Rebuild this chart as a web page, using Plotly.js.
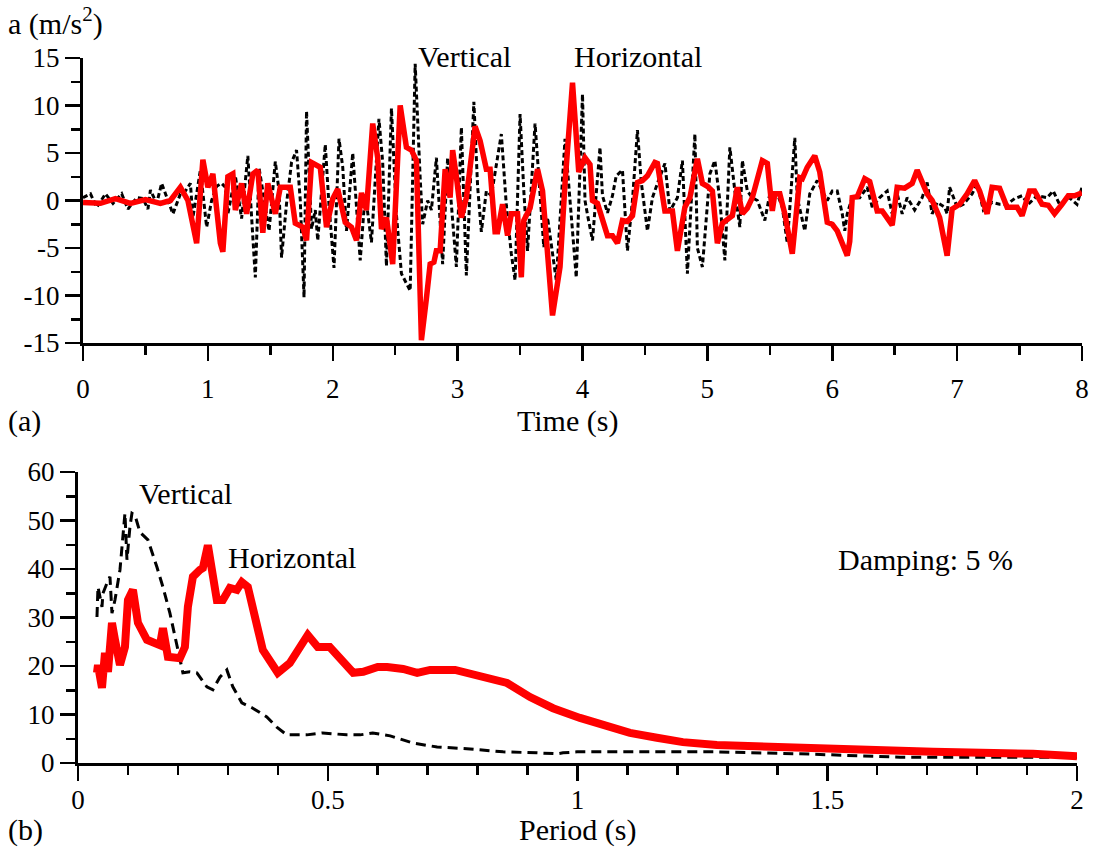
<!DOCTYPE html>
<html><head><meta charset="utf-8">
<script src="https://cdn.plot.ly/plotly-3.0.1.min.js"></script>
<style>html,body{margin:0;padding:0;background:#fff}#c{width:1094px;height:857px}</style>
</head><body><div id="c"></div>
<script>
// (a) acceleration time histories
const timeH = [0.00,0.14,0.26,0.38,0.50,0.62,0.70,0.78,0.84,0.91,0.96,1.00,1.04,1.10,1.12,1.16,1.20,1.22,1.27,1.31,1.36,1.40,1.44,1.48,1.54,1.58,1.66,1.70,1.76,1.79,1.83,1.90,1.95,2.00,2.04,2.10,2.15,2.19,2.23,2.27,2.32,2.36,2.39,2.43,2.48,2.54,2.59,2.63,2.67,2.71,2.75,2.78,2.81,2.83,2.86,2.90,2.94,2.96,2.99,3.03,3.07,3.14,3.18,3.23,3.26,3.30,3.32,3.36,3.40,3.43,3.48,3.51,3.53,3.58,3.64,3.68,3.76,3.82,3.86,3.92,3.97,4.02,4.06,4.08,4.12,4.16,4.20,4.24,4.28,4.32,4.36,4.40,4.44,4.48,4.52,4.58,4.60,4.66,4.72,4.76,4.82,4.86,4.92,4.96,5.00,5.04,5.08,5.12,5.20,5.24,5.28,5.32,5.36,5.44,5.48,5.52,5.54,5.58,5.62,5.68,5.74,5.76,5.80,5.86,5.90,5.96,6.00,6.04,6.12,6.14,6.16,6.20,6.26,6.30,6.36,6.40,6.48,6.52,6.58,6.64,6.68,6.76,6.80,6.86,6.92,6.96,7.02,7.08,7.14,7.18,7.24,7.28,7.34,7.40,7.48,7.52,7.58,7.62,7.68,7.73,7.78,7.84,7.89,7.94,8.00];
const accH = [-0.2,-0.3,0.2,-0.3,0.1,-0.3,0.0,1.4,0.0,-4.5,4.3,1.4,2.8,-4.5,-5.4,2.5,2.8,-1.0,1.8,-1.4,2.8,3.2,-3.4,1.8,-1.4,1.4,1.4,-2.4,-2.8,-4.2,4.0,3.5,-2.8,0.2,1.2,-2.3,-2.8,-4.2,0.8,-1.0,8.1,4.5,-3.0,-1.8,-6.7,10.0,5.6,5.3,4.2,-14.7,-10.3,-6.7,-6.5,-5.3,-5.3,3.3,0.3,5.3,2.5,-1.8,0.3,7.8,6.3,3.3,3.3,-3.3,-3.3,-0.4,-3.7,-1.4,-1.4,-8.1,-2.1,-0.8,3.3,1.0,-12.1,-7.0,1.8,12.4,3.0,4.5,3.8,0.0,-0.3,-1.8,-3.7,-3.7,-4.5,-2.1,-2.2,-1.6,1.9,2.1,2.6,4.0,3.9,-1.1,-1.1,-5.3,-0.7,0.3,4.4,1.8,1.5,1.0,-4.5,-2.4,-1.6,1.4,-1.4,-0.8,0.3,4.2,3.9,-1.1,0.7,0.7,-1.4,-5.6,2.4,2.3,3.5,4.7,3.0,-2.3,-2.5,-3.2,-5.8,-4.3,0.3,0.4,2.3,2.0,-1.1,-1.1,-2.6,1.4,1.3,1.8,3.2,0.7,0.0,-1.8,-5.8,-0.9,-0.4,0.7,2.1,1.0,-1.4,1.4,1.3,-0.7,-0.7,-1.6,1.0,1.0,-0.4,-0.5,-1.4,-0.4,0.5,0.5,0.8];
const timeV = [0.00,0.06,0.11,0.18,0.24,0.31,0.36,0.43,0.48,0.52,0.54,0.59,0.63,0.67,0.72,0.78,0.82,0.86,0.88,0.94,0.99,1.03,1.07,1.11,1.14,1.16,1.22,1.27,1.32,1.38,1.41,1.44,1.49,1.54,1.57,1.59,1.63,1.67,1.71,1.74,1.77,1.79,1.83,1.86,1.88,1.94,1.97,2.01,2.05,2.08,2.11,2.16,2.22,2.26,2.31,2.37,2.40,2.43,2.47,2.51,2.55,2.62,2.66,2.70,2.72,2.76,2.79,2.83,2.88,2.92,2.99,3.03,3.07,3.13,3.16,3.19,3.23,3.27,3.35,3.39,3.43,3.46,3.50,3.53,3.56,3.62,3.66,3.69,3.72,3.79,3.86,3.95,4.00,4.02,4.04,4.08,4.14,4.16,4.20,4.24,4.27,4.32,4.36,4.40,4.44,4.47,4.52,4.56,4.60,4.66,4.70,4.76,4.80,4.84,4.90,4.92,4.96,5.02,5.06,5.10,5.14,5.18,5.22,5.26,5.28,5.32,5.36,5.40,5.46,5.50,5.56,5.60,5.64,5.70,5.72,5.78,5.82,5.88,5.92,5.96,6.00,6.04,6.08,6.10,6.12,6.16,6.22,6.28,6.32,6.38,6.44,6.48,6.52,6.56,6.60,6.66,6.72,6.76,6.80,6.84,6.90,6.92,6.94,7.00,7.05,7.12,7.16,7.21,7.28,7.34,7.40,7.46,7.52,7.57,7.64,7.72,7.77,7.82,7.90,7.96,8.00];
const accV = [0.3,0.7,-0.7,0.7,-0.3,0.7,-0.9,0.3,0.2,-0.9,1.1,-0.3,1.8,0.3,-1.4,0.7,1.0,1.8,-1.8,3.2,-2.8,0.0,1.5,1.8,1.4,-1.4,2.6,-1.9,4.7,-8.1,3.4,1.0,-3.2,4.1,1.0,-6.0,-0.3,4.0,5.3,0.0,-10.2,9.4,-3.0,-1.0,-4.2,5.9,-0.5,-7.1,6.5,3.5,-3.2,5.0,-6.3,0.8,-4.4,8.6,4.0,-6.9,9.7,-1.5,-7.7,-9.5,14.4,2.4,-2.5,0.0,-1.0,4.5,-6.7,4.5,-7.0,7.7,-7.9,10.4,1.5,-3.3,1.0,0.5,7.0,-0.5,-5.6,-8.4,9.1,1.0,-5.3,8.1,1.0,-4.9,-1.8,-8.4,6.5,-8.1,11.2,0.0,-1.5,-4.2,5.6,0.5,-1.3,0.5,2.6,3.2,-5.3,0.0,7.4,2.0,-3.2,0.3,1.8,3.9,-1.1,0.3,4.2,-7.7,7.0,-5.0,-7.0,2.8,4.2,0.0,-6.3,5.6,1.0,-2.8,4.2,1.0,0.3,0.0,-2.1,0.7,0.7,-0.7,-4.5,6.6,0.3,-3.2,0.7,2.1,1.0,0.0,1.0,1.0,-1.4,-3.2,-1.4,0.3,0.3,1.4,-0.7,0.3,1.0,-1.4,0.7,-1.4,0.3,-1.0,0.3,1.9,-1.4,-0.2,-0.7,-1.4,1.4,-0.7,-0.4,0.7,1.8,-1.0,-0.2,-0.4,-0.4,0.2,0.5,-0.4,0.5,0.3,1.0,-0.4,0.3,-0.4,1.4];

// (b) response spectra, damping 5 %
const periodH = [0.038,0.040,0.048,0.054,0.060,0.068,0.074,0.084,0.094,0.100,0.110,0.120,0.138,0.154,0.164,0.170,0.180,0.204,0.214,0.220,0.230,0.244,0.250,0.260,0.278,0.290,0.304,0.318,0.328,0.340,0.354,0.370,0.400,0.424,0.460,0.480,0.504,0.551,0.571,0.600,0.619,0.651,0.679,0.705,0.755,0.799,0.859,0.905,0.951,1.005,1.051,1.105,1.159,1.211,1.279,1.379,1.511,1.712,1.912,2.000];
const specH = [18.6,20.2,15.5,22.7,18.8,28.9,25.4,20.2,23.9,33.6,35.7,28.9,25.4,24.7,24.3,27.8,21.9,21.6,23.9,32.2,38.4,39.8,40.2,44.9,33.6,33.6,36.1,35.7,37.3,36.3,30.9,23.3,18.6,20.6,26.4,23.9,23.9,18.6,18.8,19.8,19.8,19.4,18.6,19.2,19.2,18.1,16.5,13.6,11.3,9.3,7.8,6.2,5.2,4.3,3.7,3.3,2.9,2.3,1.9,1.4];
const periodV = [0.038,0.040,0.048,0.050,0.058,0.064,0.068,0.074,0.084,0.090,0.094,0.098,0.104,0.108,0.114,0.124,0.140,0.158,0.170,0.184,0.198,0.210,0.224,0.238,0.258,0.270,0.284,0.298,0.310,0.328,0.350,0.378,0.398,0.418,0.458,0.490,0.538,0.565,0.590,0.625,0.671,0.719,0.785,0.851,0.919,0.959,0.971,0.999,1.279,1.445,1.646,2.000];
const specV = [30.1,36.3,32.2,35.0,37.1,38.4,30.9,33.6,39.8,46.6,51.5,41.9,48.7,51.5,51.1,47.6,46.0,40.4,36.3,30.9,23.9,18.6,18.8,18.6,15.7,15.1,17.7,19.2,15.7,12.4,11.3,9.5,7.4,5.8,5.8,6.2,5.8,5.8,6.2,5.6,4.1,3.3,2.9,2.3,2.1,1.9,2.1,2.3,2.3,1.9,1.2,1.2];

const accTickVals = [-15,-10,-5,0,5,10,15];
const accTickText = ['-15','-10','-5','0','5','10','15'];

const W = 1094, H = 857;
const FONT = 'Liberation Serif';
const px = x => x / W, py = y => 1 - y / H;

const traces = [
  {x: timeV, y: accV, xaxis: 'x', yaxis: 'y', mode: 'lines', name: 'Vertical',
   line: {color: '#000', width: 3, dash: '5px,3px'}},
  {x: timeH, y: accH, xaxis: 'x', yaxis: 'y', mode: 'lines', name: 'Horizontal',
   line: {color: '#ff0000', width: 5.5}},
  {x: periodV, y: specV, xaxis: 'x2', yaxis: 'y2', mode: 'lines', name: 'Vertical',
   line: {color: '#000', width: 3, dash: '10px,6px'}},
  {x: periodH, y: specH, xaxis: 'x2', yaxis: 'y2', mode: 'lines', name: 'Horizontal',
   line: {color: '#ff0000', width: 8}}
];

const tickFont = {family: FONT, size: 27, color: '#000'};
const axBase = {
  showgrid: false, zeroline: false, showline: true, linecolor: '#000', linewidth: 3,
  ticks: 'outside', tickcolor: '#000', tickwidth: 2.5, ticklen: 15,
  tickfont: tickFont, fixedrange: true
};
const minorOf = d => ({dtick: d, tick0: 0, ticks: 'outside', ticklen: 9, tickwidth: 2.5, tickcolor: '#000'});

const layout = {
  width: W, height: H, margin: {l: 0, r: 0, t: 0, b: 0},
  paper_bgcolor: '#fff', plot_bgcolor: '#fff', showlegend: false,
  font: {family: FONT, color: '#000', size: 27},
  xaxis: Object.assign({}, axBase, {domain: [px(83), px(1082)], range: [0, 8], anchor: 'y',
    dtick: 1, tick0: 0, minor: minorOf(0.5), ticklabelstandoff: 5}),
  yaxis: Object.assign({}, axBase, {domain: [py(343), py(58)], range: [-15, 15], anchor: 'x',
    tickmode: 'array', tickvals: accTickVals, ticktext: accTickText,
    minor: minorOf(2.5), ticklabelstandoff: 0}),
  xaxis2: Object.assign({}, axBase, {domain: [px(78), px(1077)], range: [0, 2], anchor: 'y2',
    dtick: 0.5, tick0: 0, minor: minorOf(0.1), ticklabelstandoff: -4}),
  yaxis2: Object.assign({}, axBase, {domain: [py(763), py(472)], range: [0, 60], anchor: 'x2',
    dtick: 10, tick0: 0, minor: minorOf(5), ticklabelstandoff: 0}),
  annotations: [
    {text: 'a (m/s<sup>2</sup>)', x: px(6), y: py(22), xanchor: 'left'},
    {text: 'Vertical', x: px(416), y: py(57), xanchor: 'left'},
    {text: 'Horizontal', x: px(572), y: py(57), xanchor: 'left'},
    {text: '(a)', x: px(6), y: py(421), xanchor: 'left'},
    {text: 'Time (s)', x: px(567), y: py(421), xanchor: 'center'},
    {text: '(b)', x: px(6), y: py(830), xanchor: 'left'},
    {text: 'Period (s)', x: px(577), y: py(830), xanchor: 'center'},
    {text: 'Vertical', x: px(137), y: py(493), xanchor: 'left'},
    {text: 'Horizontal', x: px(226), y: py(557), xanchor: 'left'},
    {text: 'Damping: 5 %', x: px(836), y: py(559), xanchor: 'left'}
  ].map(a => Object.assign({xref: 'paper', yref: 'paper', yanchor: 'middle', showarrow: false,
    font: {family: FONT, size: 30, color: '#000'}}, a))
};

Plotly.newPlot('c', traces, layout, {displayModeBar: false, staticPlot: true});
</script></body></html>
